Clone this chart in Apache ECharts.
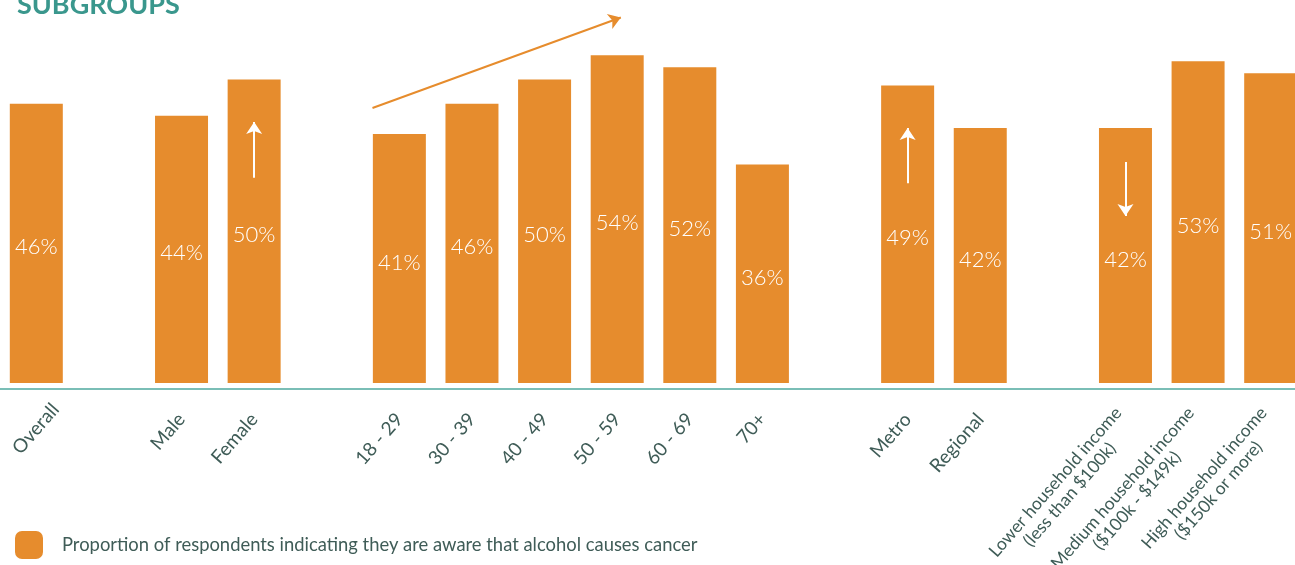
<!DOCTYPE html>
<html>
<head>
<meta charset="utf-8">
<script src="https://cdn.jsdelivr.net/npm/echarts@6/dist/echarts.min.js"></script>
<style>
html,body{margin:0;padding:0;background:#fff;}
#chart{width:1295px;height:565px;}
</style>
</head>
<body>
<div id="chart"></div>
<script>
// Categories (blank entries are spacer slots between subgroup blocks)
const categories = ['Overall', ' ', 'Male', 'Female', '  ', '18 - 29', '30 - 39', '40 - 49', '50 - 59', '60 - 69', '70+', '   ', 'Metro', 'Regional', '    ',
  'Lower household income\n(less than $100k)', 'Medium household income\n($100k - $149k)', 'High household income\n($150k or more)'];
// Percent aware (null = spacer)
const awareness = [46, null, 44, 50, null, 41, 46, 50, 54, 52, 36, null, 49, 42, null, 42, 53, 51];
const seriesName = 'Proportion of respondents indicating they are aware that alcohol causes cancer';
const titleText = 'SUBGROUPS';
// Significance arrows: [categoryIndex, fromValue, toValue]
const sigArrows = [[3, 33.8, 43.0], [12, 32.9, 42.0], [15, 36.4, 27.5]];
// Age trend arrow: [[xIndex, value], [xIndex, value]]
const trendArrow = [[4.63, 45.3], [8.05, 60.2]];

const orange = '#E68C2D';
const teal = '#3A978D';
const textDark = '#3F5C57';

const axisData = categories.map((c, i) => i === 0 ? {value: c, textStyle: {padding: [16, -20, 0, 0]}} : c);

const chart = echarts.init(document.getElementById('chart'));
chart.setOption({
  animation: false,
  title: {
    text: titleText, left: 12, top: -13,
    textStyle: {color: teal, fontFamily: 'Lato', fontWeight: 'bold', fontSize: 27}
  },
  legend: {
    left: 10, top: 526, itemWidth: 28, itemHeight: 28, icon: 'roundRect',
    data: [seriesName],
    textStyle: {color: textDark, fontFamily: 'Lato', fontSize: 18.4, padding: [0, 0, 0, 14]}
  },
  grid: {left: 0, right: -12, top: -42, bottom: 176, outerBoundsMode: 'none', containLabel: false},
  xAxis: [{
    type: 'category', data: axisData,
    axisTick: {show: false},
    axisLine: {onZero: false, lineStyle: {color: '#4EA89E', width: 1.5}},
    axisLabel: {
      rotate: 49, interval: 0, margin: 27, color: textDark, fontFamily: 'Lato', fontSize: 19, lineHeight: 20,
      formatter: v => {
        const lines = v.split('\n');
        const key = lines.length > 1 ? 'm' : 's';
        return lines.map(l => '{' + key + '|' + l + '}').join('\n');
      },
      rich: {
        s: {align: 'center', color: textDark, fontFamily: 'Lato', fontSize: 19, lineHeight: 20},
        m: {align: 'center', color: textDark, fontFamily: 'Lato', fontSize: 17.5, lineHeight: 19}
      }
    }
  }, {
    type: 'value', min: -0.5, max: 17.5, show: false
  }],
  yAxis: {type: 'value', min: -1, max: 70, show: false},
  series: [{
    name: seriesName, type: 'bar', data: awareness, barWidth: 53,
    itemStyle: {color: orange},
    label: {
      show: true, position: 'inside', offset: [0, 4], formatter: '{c}%',
      color: '#fff', fontFamily: 'Lato', fontWeight: 300, fontSize: 22
    }
  }, {
    type: 'line', xAxisIndex: 1, data: [], silent: true,
    markLine: {
      silent: true, symbol: ['none', 'arrow'], symbolSize: [12, 12],
      label: {show: false},
      lineStyle: {color: '#fff', width: 2, type: 'solid'},
      data: sigArrows.map(a => [{coord: [a[0], a[1]]}, {coord: [a[0], a[2]]}])
        .concat([[{coord: trendArrow[0], lineStyle: {color: orange, width: 2}},
                  {coord: trendArrow[1], lineStyle: {color: orange, width: 2}}]])
    }
  }]
});
</script>
</body>
</html>
